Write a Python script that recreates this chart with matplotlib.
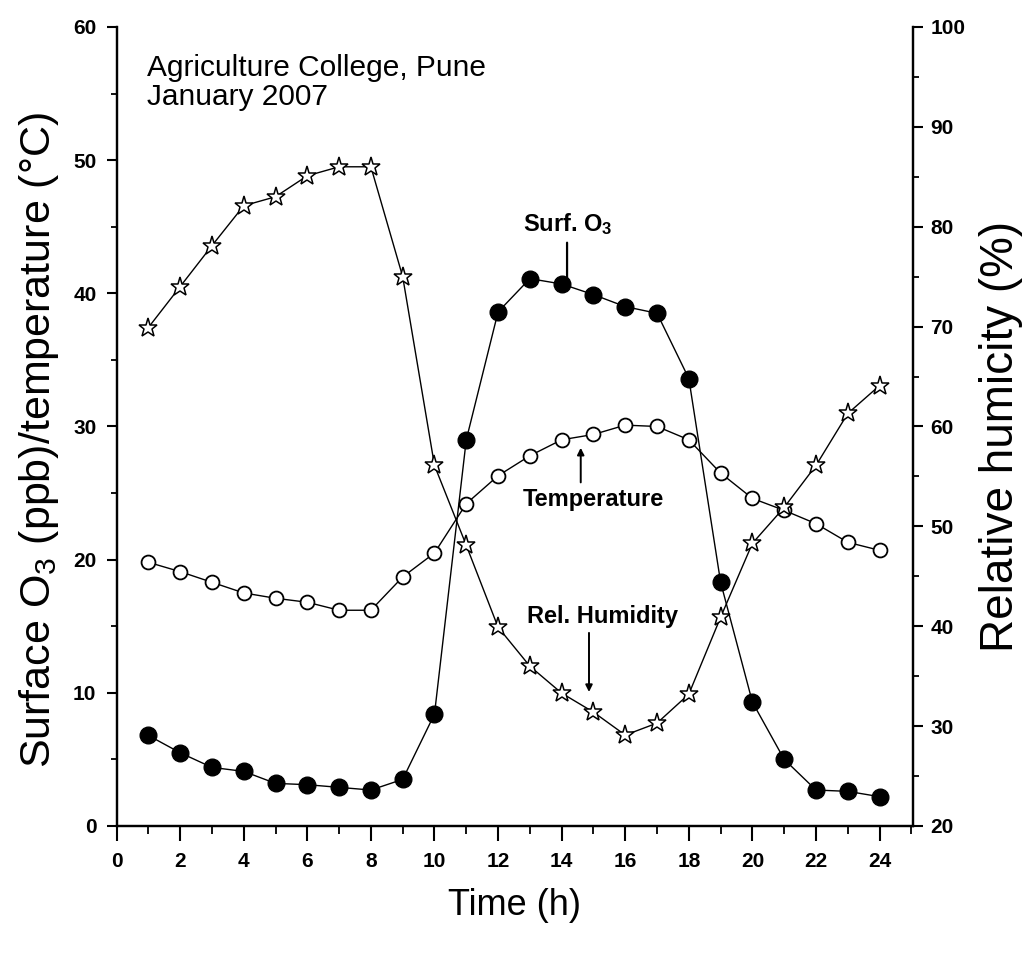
#!/usr/bin/env python3
"""Diurnal surface O3, temperature and relative humidity, Agriculture College, Pune."""
import matplotlib
matplotlib.use("Agg")
import matplotlib.pyplot as plt
from matplotlib.ticker import MultipleLocator

hours = list(range(1, 25))
ozone = [6.8, 5.5, 4.4, 4.1, 3.2, 3.1, 2.9, 2.7, 3.5, 8.4, 29.0, 38.6,
         41.1, 40.7, 39.9, 39.0, 38.5, 33.6, 18.3, 9.3, 5.0, 2.7, 2.6, 2.2]
temperature = [19.8, 19.1, 18.3, 17.5, 17.1, 16.8, 16.2, 16.2, 18.7, 20.5, 24.2, 26.3,
               27.8, 29.0, 29.4, 30.1, 30.0, 29.0, 26.5, 24.6, 23.7, 22.7, 21.3, 20.7]
humidity = [69.9, 74.0, 78.1, 82.1, 83.0, 85.1, 86.0, 86.0, 75.0, 56.1, 48.1, 39.9,
            36.0, 33.3, 31.4, 29.1, 30.3, 33.2, 40.9, 48.3, 51.9, 56.1, 61.3, 64.1]

plt.rcParams["font.family"] = ["Liberation Sans", "DejaVu Sans"]
plt.rcParams["mathtext.fontset"] = "custom"
plt.rcParams["mathtext.rm"] = "Liberation Sans"
plt.rcParams["mathtext.bf"] = "Liberation Sans:bold"
plt.rcParams["mathtext.default"] = "regular"

fig = plt.figure(figsize=(10.35, 9.56), dpi=100)
ax = fig.add_axes([0.1126, 0.136, 0.7695, 0.8358])
ax2 = ax.twinx()

line_kw = dict(color="black", lw=1.0)
ax.plot(hours, ozone, marker="o", ms=12, mfc="black", mec="black", **line_kw, zorder=3)
ax.plot(hours, temperature, marker="o", ms=10, mfc="white", mec="black", mew=1.3,
        **line_kw, zorder=3)
ax2.plot(hours, humidity, marker="*", ms=14, mfc="white", mec="black", mew=1.1,
         **line_kw, zorder=3)

ax.set_xlim(0, 25.05)
ax.set_ylim(0, 60)
ax2.set_ylim(20, 100)

ax.xaxis.set_major_locator(MultipleLocator(2))
ax.xaxis.set_minor_locator(MultipleLocator(1))
ax.yaxis.set_major_locator(MultipleLocator(10))
ax.yaxis.set_minor_locator(MultipleLocator(5))
ax2.yaxis.set_major_locator(MultipleLocator(10))
ax2.yaxis.set_minor_locator(MultipleLocator(5))

for a in (ax, ax2):
    a.spines["top"].set_visible(False)
    for s in ("left", "right", "bottom"):
        a.spines[s].set_linewidth(1.6)
    a.tick_params(which="major", direction="out", length=7.5, width=1.5, labelsize=15)
    a.tick_params(which="minor", direction="out", length=4.5, width=1.3)
    for lab in a.get_xticklabels() + a.get_yticklabels():
        lab.set_fontweight("bold")
ax.tick_params(axis="x", which="major", length=11, pad=8)
ax.tick_params(axis="x", which="minor", length=6)
ax.tick_params(axis="y", which="major", pad=7)
ax2.tick_params(axis="y", which="major", pad=5)

ax.set_xlabel("Time (h)", fontsize=26, labelpad=12)
ax.set_ylabel("Surface O$_3$ (ppb)/temperature (°C)", fontsize=31, labelpad=9)
ax.yaxis.label.set_y(0.483)
ax2.set_ylabel("Relative humicity (%)", fontsize=33, labelpad=10)
ax2.yaxis.label.set_y(0.487)

ax.text(0.038, 0.966, "Agriculture College, Pune\nJanuary 2007", transform=ax.transAxes,
        ha="left", va="top", fontsize=21.5, linespacing=1.05)

note_kw = dict(fontsize=17, fontweight="bold", ha="center", va="center")
arrow_kw = dict(arrowstyle="-|>", color="black", lw=1.4, mutation_scale=10,
                shrinkA=0, shrinkB=0)
ax.text(14.2, 45.2, "Surf. O$_\\mathbf{3}$", **note_kw)
ax.annotate("", xy=(14.17, 41.1), xytext=(14.17, 43.8),
            arrowprops=dict(arrowstyle="-", color="black", lw=1.6, shrinkA=0, shrinkB=0))
ax.text(15.0, 24.5, "Temperature", **note_kw)
ax.annotate("", xy=(14.6, 28.4), xytext=(14.6, 25.8), arrowprops=arrow_kw)
ax.text(15.3, 15.7, "Rel. Humidity", **note_kw)
ax.annotate("", xy=(14.86, 10.06), xytext=(14.86, 14.5), arrowprops=arrow_kw)

fig.savefig("out.png", dpi=100, facecolor="white")
